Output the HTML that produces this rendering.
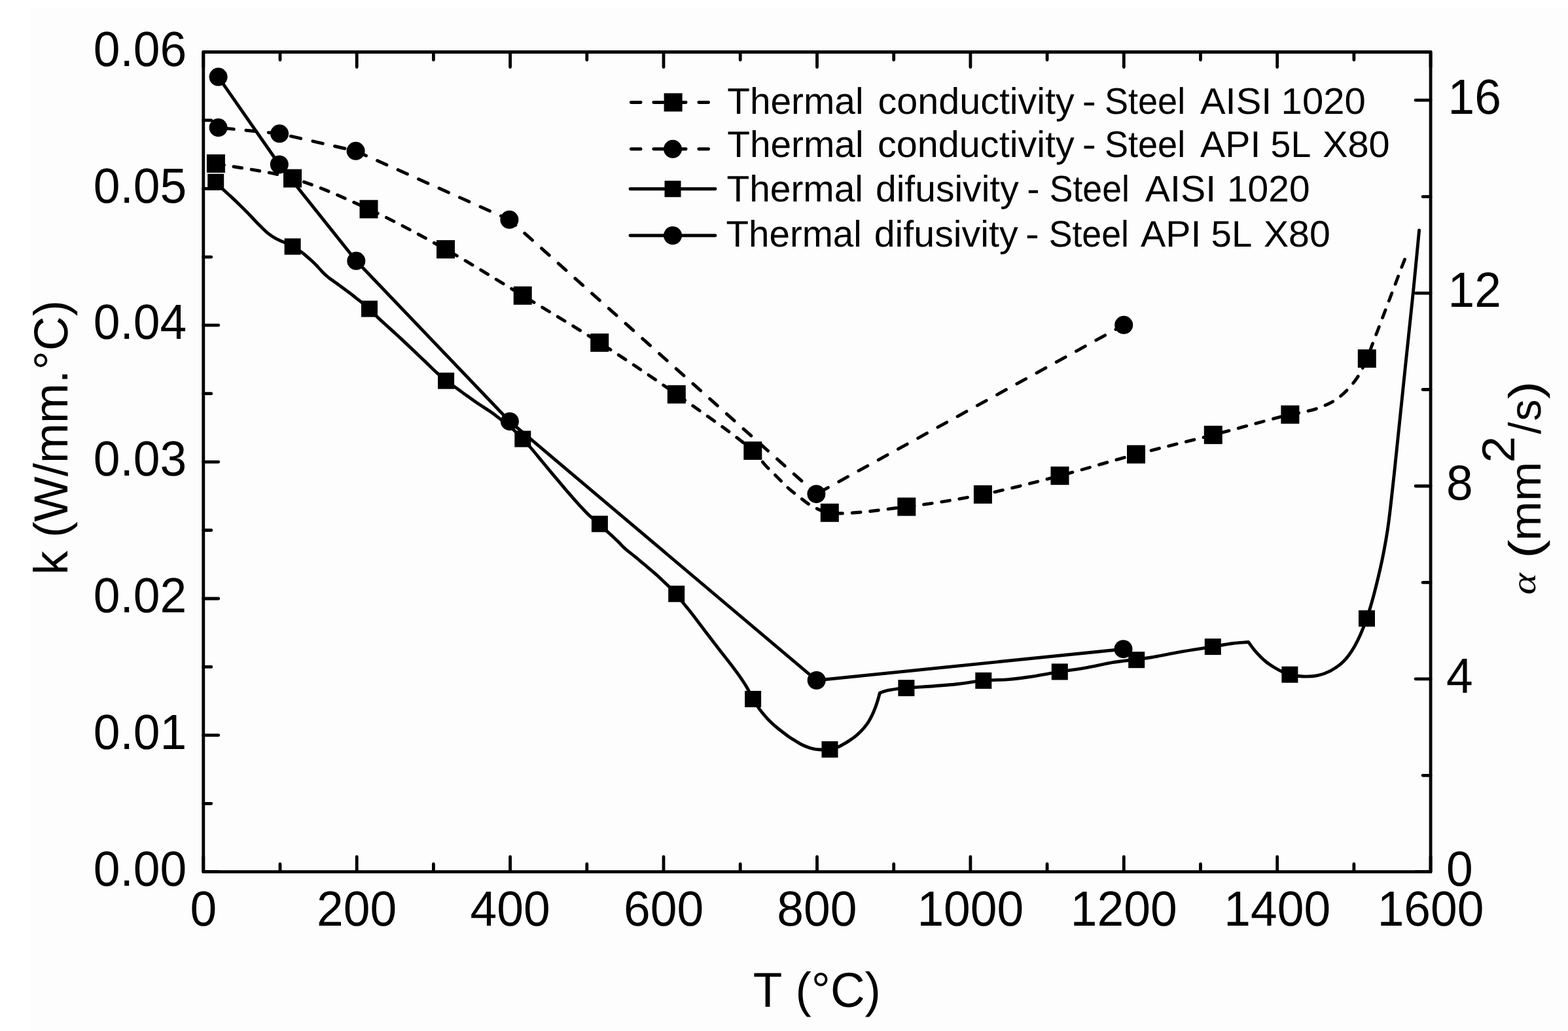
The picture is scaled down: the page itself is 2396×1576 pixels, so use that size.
<!DOCTYPE html>
<html><head><meta charset="utf-8"><title>Thermal conductivity and diffusivity vs temperature</title>
<style>html,body{margin:0;padding:0;background:#fff;overflow:hidden;}svg{display:block;}</style>
</head><body>
<svg width="2396" height="1576" viewBox="0 0 2396 1576" font-family="'Liberation Sans', Arial, sans-serif" fill="#000" style="font-kerning:none;text-rendering:geometricPrecision">
<rect width="2396" height="1576" fill="#fff"/>
<rect x="47" y="13" width="2349" height="1563" fill="#fdfdfd"/>
<g fill="none" stroke="#000" stroke-width="4.9" stroke-linejoin="round">
<path d="M329.9 250 C368.9 257.5 408.6 261.2 447 272.6 C486.5 284.3 525 301.9 563.5 319.7 C603 338 642.1 359.3 681 381.1 C720.5 403.3 759.5 428 798.7 451.8 C837.9 475.6 877.3 498.8 916.2 523.8 C955.7 549.1 995 575.4 1033.8 602.8 C1073 630.5 1128.4 668.6 1150.3 688.9 C1160.2 698.1 1163.2 704.3 1169.7 711.3 C1175.8 717.9 1182.2 723.8 1188.1 729.7 C1193.7 735.3 1198.5 740.7 1204.4 746 C1210.7 751.6 1218.6 757.7 1224.9 762.4 C1230 766.3 1233.4 769.4 1239.2 772.6 C1246.9 776.8 1254.7 781.9 1267.8 783.8 C1293.4 787.6 1346.3 779.3 1385.3 774.6 C1424.3 769.9 1463.1 763.6 1501.9 755.8 C1541.2 747.9 1580.5 737.4 1619.5 727.2 C1658.5 717 1697 704.9 1736 694.5 C1775.1 684.1 1814.6 674.9 1853.8 664.8 C1893 654.7 1946.9 639.3 1971.4 633.7 C1982.4 631.2 1987.7 631 1995.6 629.1 C2003.4 627.2 2011.1 625.2 2018.6 622.2 C2026.4 619.1 2034.6 615.4 2041.6 610.7 C2048.4 606.1 2054.3 600.6 2060 594.6 C2065.9 588.4 2071.4 581.4 2076.1 573.9 C2081 566 2085.1 556.5 2088.8 548.1 C2092.2 540.3 2094.6 532.7 2097.6 525 C2100.6 517.2 2103.6 509.4 2106.6 501.5 C2109.6 493.5 2112.7 485.5 2115.7 477.5 C2118.7 469.5 2121.8 461.5 2124.8 453.5 C2127.8 445.5 2130.9 437.5 2133.9 429.5 C2136.9 421.5 2140.2 412.9 2143 405.5 C2145.5 399.1 2147.7 393.5 2150 387.5" stroke-dasharray="12.8 14.7" stroke-linecap="round"/>
<path d="M333.6 195.1 L427.1 204.3 L543.6 230.8 L778.4 335.8" stroke-dasharray="15.8 18.7" stroke-dashoffset="-8" stroke-linecap="round"/>
<path d="M778.4 335.8 L1247.4 755.2" stroke-dasharray="15.8 18.7" stroke-dashoffset="3.2" stroke-linecap="round"/>
<path d="M1247.4 755.2 L1717.2 496.8" stroke-dasharray="15.8 18.7" stroke-dashoffset="-4.7" stroke-linecap="round"/>
<path d="M329.7 278.2 C333.4 281.9 337 285.6 340.7 289.2 C344.5 292.8 348.2 296.2 352.2 299.9 C356.6 304 361.4 308.5 366 312.9 C370.6 317.4 375.5 322.3 379.8 326.7 C383.7 330.7 387 334.6 390.6 338.3 C393.9 341.8 397.2 345 400.5 348.2 C403.8 351.4 407.1 354.7 410.5 357.4 C413.5 359.8 416.6 361.8 419.7 363.6 C422.7 365.4 425.9 366.8 428.9 368.2 C431.8 369.6 434.6 370.6 437.5 372 C440.6 373.5 443.6 374.9 447.1 376.9 C451.5 379.4 457.3 383.1 461.5 386.1 C465 388.6 467.8 391.2 470.7 393.7 C473.4 396 475.8 398.2 478.3 400.6 C480.9 403.1 483.5 405.6 486 408.3 C488.6 411 491.1 414.2 493.7 416.8 C496.2 419.3 498.4 421.3 501.3 423.6 C504.7 426.4 509 429.3 512.9 432.1 C516.7 434.9 520.6 437.7 524.4 440.5 C528.2 443.3 532.1 446.1 535.9 449 C539.8 452 543.2 454.8 547.4 458.2 C552.5 462.3 559.6 467.6 564.5 472.1 C568.6 475.9 570.4 478.6 575.2 483.3 C584 491.9 601.2 506.9 613.7 518.6 C625.9 529.9 639.5 543 649.4 552.4 C656.4 559.1 661.6 564.4 667.3 569.6 C672.3 574.2 676.8 578.3 681.6 582.1 C686 585.6 690.1 588 695 591.5 C701 595.7 708.3 601.2 714.7 605.8 C720.8 610.1 726.6 614.3 732.6 618.3 C738.5 622.3 745 626 750.5 629.9 C755.4 633.3 759.1 636.4 763.9 640.2 C769.7 644.8 777.1 650.2 783 655.5 C788.7 660.5 794 666 798.8 671 C803.1 675.5 806.3 679.1 810.6 684 C816 690.2 823.1 699 828.5 705.5 C833 711 836.9 715.7 841 720.6 C844.9 725.3 848.5 729.6 852.6 734.4 C857.1 739.8 862.3 745.9 866.9 751.3 C871.2 756.3 875.2 761 879.4 765.6 C883.4 770.1 887.5 774.6 891.5 778.8 C895.3 782.8 898.9 786.6 903 790.2 C907.2 793.9 912.3 797.2 916.4 800.9 C920.3 804.4 923.6 808.3 927.2 811.8 C930.6 815.1 934.2 818.1 937.5 821.2 C940.5 824 943.4 826.8 946.1 829.5 C948.7 832.1 951.1 834.9 953.6 837.3 C955.9 839.5 958 841.2 960.5 843.2 C963.2 845.4 965.8 847.3 969.1 849.9 C973.6 853.5 979.3 858.4 984.7 862.9 C990.5 867.8 996.9 873 1002.6 878.1 C1008.2 883.1 1013.4 888.3 1018.7 893.3 C1023.8 898.2 1029.4 903 1033.7 907.8 C1037.4 912 1039.6 916 1043.1 920.5 C1047.1 925.7 1051.7 931 1056.4 937 C1062 944.2 1068.5 952.9 1074.6 960.9 C1080.7 968.9 1087.3 977.7 1092.8 984.8 C1097.3 990.6 1100.9 995.4 1105 1000.6 C1109 1005.8 1113.1 1010.8 1117.1 1016 C1121.2 1021.4 1125.2 1026.7 1129.2 1032.4 C1133.3 1038.4 1137.8 1044.8 1141.4 1051 C1144.8 1056.9 1147.4 1063 1150.6 1068.6 C1153.7 1073.9 1157.2 1079.3 1160.3 1083.6 C1162.8 1087.1 1165 1089.8 1167.7 1092.9 C1170.6 1096.2 1173.8 1099.9 1177 1103 C1180 1106 1183.1 1108.7 1186.2 1111.3 C1189.3 1113.9 1192.4 1116.3 1195.5 1118.7 C1198.6 1121.1 1201.6 1123.5 1204.7 1125.7 C1207.8 1127.8 1210.9 1129.8 1214 1131.7 C1217.1 1133.6 1220.1 1135.6 1223.2 1137.2 C1226.2 1138.8 1229.3 1140.2 1232.4 1141.4 C1235.5 1142.6 1238.6 1143.6 1241.7 1144.3 C1244.7 1145 1247.3 1145.5 1250.9 1145.8 C1255.7 1146.2 1262.8 1146.4 1268 1145.6 C1272.5 1144.9 1276.9 1143.3 1280.5 1141.9 C1283.3 1140.8 1285.3 1139.6 1287.9 1138.2 C1290.8 1136.6 1294.1 1134.6 1297.1 1132.6 C1300.2 1130.6 1303.4 1128.5 1306.4 1126.1 C1309.6 1123.6 1312.6 1120.9 1315.6 1117.8 C1318.8 1114.5 1322.1 1110.7 1324.9 1106.7 C1327.7 1102.7 1330.1 1098.2 1332.3 1093.8 C1334.4 1089.5 1336.2 1085 1337.8 1080.8 C1339.2 1077 1340.4 1073.4 1341.5 1069.7 C1342.6 1066.2 1343.4 1062.8 1344.3 1059.3 C1347.1 1058.3 1349.2 1057.2 1352.6 1056.3 C1357.6 1055 1365.8 1053.7 1371.6 1052.9 C1376.4 1052.3 1378.7 1052.2 1384.9 1051.7 C1399.7 1050.5 1438.5 1048.2 1460 1046 C1476.3 1044.3 1488.9 1041.6 1502.8 1040.4 C1515.8 1039.2 1528.8 1039.6 1540.7 1038.6 C1551.4 1037.7 1559.7 1036.6 1570.9 1035 C1585.2 1033 1603.7 1029.4 1619.3 1026.9 C1633.9 1024.5 1648 1022.8 1661.7 1020.3 C1674.8 1018 1687.3 1014.7 1700 1012.6 C1712.3 1010.6 1726.1 1009.4 1736.7 1008 C1744.9 1006.9 1750 1006.4 1758.5 1005 C1770.7 1003 1787.6 999.3 1802.9 996.6 C1819.1 993.8 1838.6 991 1853.3 988.6 C1864.7 986.7 1874 984.7 1883.5 983.5 C1892 982.4 1899.6 982.2 1907.7 981.5 C1911 985.9 1913.6 990.1 1917.5 994.6 C1922.2 1000 1928.3 1006.5 1934.4 1011.5 C1940.5 1016.4 1947.6 1020.8 1954 1024.2 C1959.7 1027.2 1964.9 1029.6 1970.9 1031.2 C1977.1 1032.9 1983.8 1033.7 1990.6 1034 C1997.8 1034.3 2005.9 1034.1 2013.1 1032.6 C2020 1031.2 2026.5 1028.9 2032.8 1025.6 C2039.6 1022 2046.6 1017.3 2052.5 1011.5 C2058.9 1005.3 2064 998.1 2069.3 989 C2076.2 977.2 2082.6 962.1 2088.5 945.4 C2096 924.1 2103.3 894.4 2108.7 870.9 C2113.5 850.2 2116.8 832.2 2120 811.9 C2123.3 790.6 2125.6 767.3 2128 746 C2130.3 726.1 2131.8 711.1 2134.2 688 C2137.8 653.7 2143.2 601.5 2147.5 560 C2151.6 520.6 2155.9 481.3 2159.6 445 C2162.9 412.4 2165.6 383 2168.6 352" stroke-linecap="round"/>
<path d="M333.6 117.6 L426.8 251.5 L544.3 398.8 L778.9 644.2 L1247.7 1040 L1716.5 992.2" stroke-linecap="round"/>
</g>
<g fill="#000">
<rect x="315.9" y="236" width="28" height="28"/><rect x="433" y="258.6" width="28" height="28"/><rect x="549.5" y="305.7" width="28" height="28"/><rect x="667" y="367.1" width="28" height="28"/><rect x="784.7" y="437.8" width="28" height="28"/><rect x="902.2" y="509.8" width="28" height="28"/><rect x="1019.8" y="588.8" width="28" height="28"/><rect x="1136.3" y="674.9" width="28" height="28"/><rect x="1253.8" y="769.8" width="28" height="28"/><rect x="1371.3" y="760.6" width="28" height="28"/><rect x="1487.9" y="741.8" width="28" height="28"/><rect x="1605.5" y="713.2" width="28" height="28"/><rect x="1722" y="680.5" width="28" height="28"/><rect x="1839.8" y="650.8" width="28" height="28"/><rect x="1957.4" y="619.7" width="28" height="28"/><rect x="2074.8" y="534.1" width="28" height="28"/>
<circle cx="333.6" cy="195.1" r="14"/><circle cx="427.1" cy="204.3" r="14"/><circle cx="543.6" cy="230.8" r="14"/><circle cx="778.4" cy="335.8" r="14"/><circle cx="1247.4" cy="755.2" r="14"/><circle cx="1717.2" cy="496.8" r="14"/>
<rect x="317.2" y="265.7" width="25" height="25"/><rect x="434.6" y="364.4" width="25" height="25"/><rect x="552" y="459.6" width="25" height="25"/><rect x="669.1" y="569.6" width="25" height="25"/><rect x="786.3" y="658.5" width="25" height="25"/><rect x="903.9" y="788.4" width="25" height="25"/><rect x="1021.2" y="895.3" width="25" height="25"/><rect x="1138.1" y="1056.1" width="25" height="25"/><rect x="1255.5" y="1133.1" width="25" height="25"/><rect x="1372.4" y="1039.2" width="25" height="25"/><rect x="1490.3" y="1027.9" width="25" height="25"/><rect x="1606.8" y="1014.4" width="25" height="25"/><rect x="1724.2" y="996.2" width="25" height="25"/><rect x="1840.8" y="976.1" width="25" height="25"/><rect x="1958.4" y="1018.7" width="25" height="25"/><rect x="2076" y="932.9" width="25" height="25"/>
<circle cx="333.6" cy="117.6" r="14"/><circle cx="426.8" cy="251.5" r="14"/><circle cx="544.3" cy="398.8" r="14"/><circle cx="778.9" cy="644.2" r="14"/><circle cx="1247.7" cy="1040" r="14"/><circle cx="1716.5" cy="992.2" r="14"/>
</g>
<rect x="310.8" y="79.5" width="1875.3" height="1253.2" fill="none" stroke="#000" stroke-width="4.8" stroke-linejoin="round"/>
<path d="M310.8 1332.7V1309.7M310.8 79.5V102.5M428 1332.7V1320.7M428 79.5V91.5M545.2 1332.7V1309.7M545.2 79.5V102.5M662.4 1332.7V1320.7M662.4 79.5V91.5M779.6 1332.7V1309.7M779.6 79.5V102.5M896.8 1332.7V1320.7M896.8 79.5V91.5M1014 1332.7V1309.7M1014 79.5V102.5M1131.2 1332.7V1320.7M1131.2 79.5V91.5M1248.5 1332.7V1309.7M1248.5 79.5V102.5M1365.7 1332.7V1320.7M1365.7 79.5V91.5M1482.9 1332.7V1309.7M1482.9 79.5V102.5M1600.1 1332.7V1320.7M1600.1 79.5V91.5M1717.3 1332.7V1309.7M1717.3 79.5V102.5M1834.5 1332.7V1320.7M1834.5 79.5V91.5M1951.7 1332.7V1309.7M1951.7 79.5V102.5M2068.9 1332.7V1320.7M2068.9 79.5V91.5M2186.1 1332.7V1309.7M2186.1 79.5V102.5M310.8 1332.7H333.8M310.8 1228.3H322.8M310.8 1123.8H333.8M310.8 1019.4H322.8M310.8 915H333.8M310.8 810.5H322.8M310.8 706.1H333.8M310.8 601.7H322.8M310.8 497.2H333.8M310.8 392.8H322.8M310.8 288.4H333.8M310.8 183.9H322.8M310.8 79.5H333.8M2186.1 1332.7H2163.1M2186.1 1185.3H2174.1M2186.1 1037.8H2163.1M2186.1 890.4H2174.1M2186.1 743H2163.1M2186.1 595.5H2174.1M2186.1 448.1H2163.1M2186.1 300.7H2174.1M2186.1 153.2H2163.1" stroke="#000" stroke-width="4.8" stroke-linecap="round" fill="none"/>
<text transform="translate(285.3,1353.90) scale(0.97,1)" text-anchor="end" font-size="75.5">0.00</text>
<text transform="translate(285.3,1145.03) scale(0.97,1)" text-anchor="end" font-size="75.5">0.01</text>
<text transform="translate(285.3,936.17) scale(0.97,1)" text-anchor="end" font-size="75.5">0.02</text>
<text transform="translate(285.3,727.30) scale(0.97,1)" text-anchor="end" font-size="75.5">0.03</text>
<text transform="translate(285.3,518.43) scale(0.97,1)" text-anchor="end" font-size="75.5">0.04</text>
<text transform="translate(285.3,309.57) scale(0.97,1)" text-anchor="end" font-size="75.5">0.05</text>
<text transform="translate(285.3,100.70) scale(0.97,1)" text-anchor="end" font-size="75.5">0.06</text>
<text transform="translate(2210,1353.90) scale(0.97,1)" font-size="75.5">0</text>
<text transform="translate(2210,1059.03) scale(0.97,1)" font-size="75.5">4</text>
<text transform="translate(2210,764.16) scale(0.97,1)" font-size="75.5">8</text>
<text transform="translate(2212.5,469.29) scale(0.97,1)" font-size="75.5">12</text>
<text transform="translate(2212.5,174.42) scale(0.97,1)" font-size="75.5">16</text>
<text transform="translate(310.80,1414.6) scale(0.97,1)" text-anchor="middle" font-size="75.5">0</text>
<text transform="translate(545.21,1414.6) scale(0.97,1)" text-anchor="middle" font-size="75.5">200</text>
<text transform="translate(779.62,1414.6) scale(0.97,1)" text-anchor="middle" font-size="75.5">400</text>
<text transform="translate(1014.04,1414.6) scale(0.97,1)" text-anchor="middle" font-size="75.5">600</text>
<text transform="translate(1248.45,1414.6) scale(0.97,1)" text-anchor="middle" font-size="75.5">800</text>
<text transform="translate(1482.86,1414.6) scale(0.97,1)" text-anchor="middle" font-size="75.5">1000</text>
<text transform="translate(1717.27,1414.6) scale(0.97,1)" text-anchor="middle" font-size="75.5">1200</text>
<text transform="translate(1951.69,1414.6) scale(0.97,1)" text-anchor="middle" font-size="75.5">1400</text>
<text transform="translate(2186.10,1414.6) scale(0.97,1)" text-anchor="middle" font-size="75.5">1600</text>
<text transform="translate(1150.66,1538.80) scale(0.9726,1)" font-size="75">T (°C)</text>
<text transform="translate(103.20,878.74) rotate(-90) scale(1.0033,1)" font-size="73">k (W/mm.°C)</text>
<text transform="translate(2345.70,908.97) rotate(-90) scale(1.1986,1)" font-size="52.5" font-family="'Liberation Serif', serif" font-style="italic">α</text>
<text transform="translate(2353.70,853.88) rotate(-90) scale(1.2572,1)" font-size="69">(</text>
<text transform="translate(2354.30,826.82) rotate(-90) scale(1.0841,1)" font-size="67">mm</text>
<text transform="translate(2314.00,707.39) rotate(-90) scale(1.0399,1)" font-size="70.5">2</text>
<text transform="translate(2353.60,663.40) rotate(-90) scale(0.9546,1)" font-size="69">/</text>
<text transform="translate(2354.30,643.43) rotate(-90) scale(0.9824,1)" font-size="67">s</text>
<text transform="translate(2353.70,609.88) rotate(-90) scale(1.1916,1)" font-size="69">)</text>
<path d="M964.3 156.5H1086" stroke="#000" stroke-width="4.9" fill="none" stroke-dasharray="14.8 19.7" stroke-linecap="round"/>
<rect x="1014.6" y="142.5" width="28" height="28"/>
<text transform="translate(1111.22,174.00) scale(1.0056,1)" font-size="56.5">Thermal</text>
<text transform="translate(1341.56,174.00) scale(1.0172,1)" font-size="56.5">conductivity</text>
<text transform="translate(1653.68,174.00) scale(1.1237,1)" font-size="56.5">-</text>
<text transform="translate(1687.94,174.00) scale(0.9572,1)" font-size="56.5">Steel</text>
<text transform="translate(1833.99,174.00) scale(1.0252,1)" font-size="56.5">AISI</text>
<text transform="translate(1957.57,174.00) scale(1.0287,1)" font-size="56.5">1020</text>
<path d="M964.3 227.8H1086" stroke="#000" stroke-width="4.9" fill="none" stroke-dasharray="14.8 19.7" stroke-linecap="round"/>
<circle cx="1028" cy="227.8" r="14"/>
<text transform="translate(1111.22,239.90) scale(1.0056,1)" font-size="56.5">Thermal</text>
<text transform="translate(1340.95,239.90) scale(1.0192,1)" font-size="56.5">conductivity</text>
<text transform="translate(1653.68,239.90) scale(1.1237,1)" font-size="56.5">-</text>
<text transform="translate(1687.94,239.90) scale(0.9572,1)" font-size="56.5">Steel</text>
<text transform="translate(1833.99,239.90) scale(1.0135,1)" font-size="56.5">API</text>
<text transform="translate(1941.58,239.90) scale(0.9811,1)" font-size="56.5">5L</text>
<text transform="translate(2020.90,239.90) scale(1.0231,1)" font-size="56.5">X80</text>
<path d="M963 288.8H1093" stroke="#000" stroke-width="4.9" fill="none" stroke-linecap="round"/>
<rect x="1015.5" y="276.3" width="25" height="25"/>
<text transform="translate(1110.42,307.80) scale(1.0066,1)" font-size="56.5">Thermal</text>
<text transform="translate(1337.90,307.80) scale(1.0100,1)" font-size="56.5">difusivity</text>
<text transform="translate(1569.32,307.80) scale(1.0294,1)" font-size="56.5">-</text>
<text transform="translate(1603.66,307.80) scale(0.9491,1)" font-size="56.5">Steel</text>
<text transform="translate(1749.69,307.80) scale(1.0154,1)" font-size="56.5">AISI</text>
<text transform="translate(1874.97,307.80) scale(1.0069,1)" font-size="56.5">1020</text>
<path d="M963 360.0H1093" stroke="#000" stroke-width="4.9" fill="none" stroke-linecap="round"/>
<circle cx="1028" cy="360.0" r="14"/>
<text transform="translate(1109.53,376.80) scale(1.0002,1)" font-size="56.5">Thermal</text>
<text transform="translate(1335.69,376.80) scale(1.0151,1)" font-size="56.5">difusivity</text>
<text transform="translate(1566.92,376.80) scale(1.1092,1)" font-size="56.5">-</text>
<text transform="translate(1602.66,376.80) scale(0.9499,1)" font-size="56.5">Steel</text>
<text transform="translate(1742.99,376.80) scale(1.0147,1)" font-size="56.5">API</text>
<text transform="translate(1850.54,376.80) scale(0.9982,1)" font-size="56.5">5L</text>
<text transform="translate(1930.91,376.80) scale(1.0128,1)" font-size="56.5">X80</text>
</svg>
</body></html>
